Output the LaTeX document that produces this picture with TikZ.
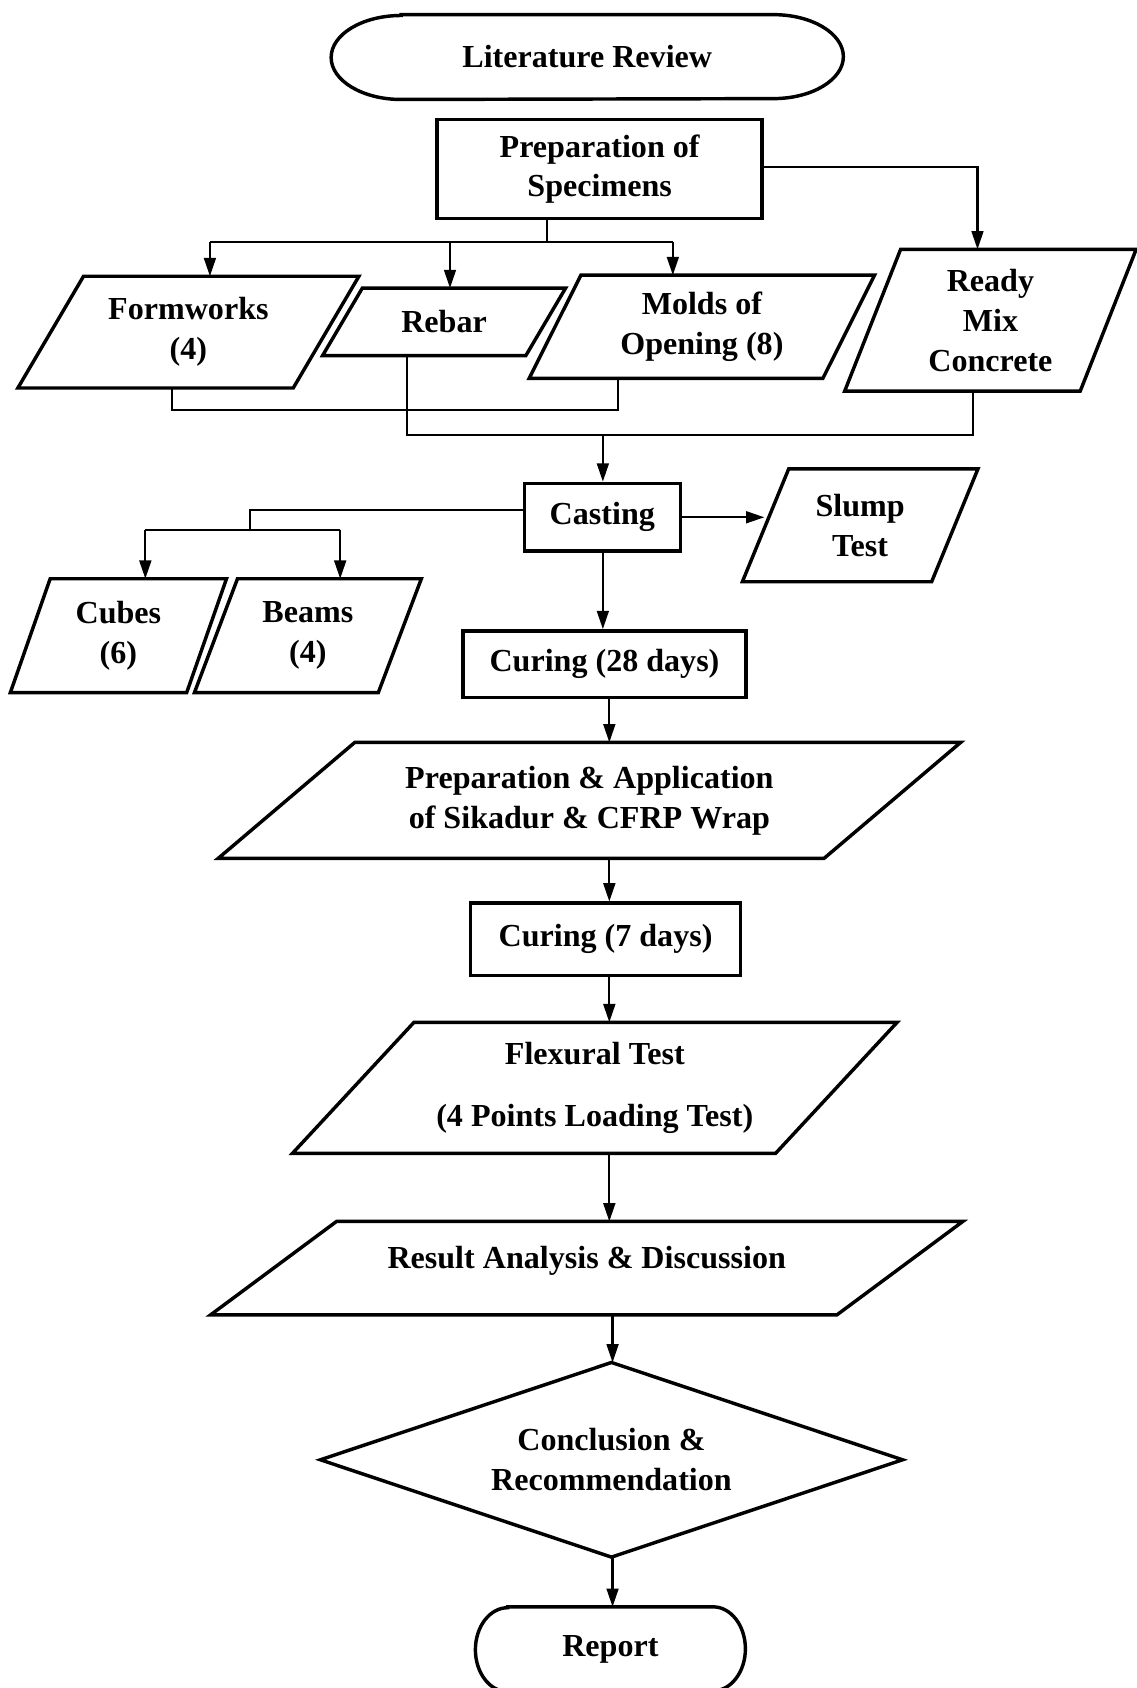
\documentclass[tikz,border=0pt]{standalone}
\usepackage{fontspec}
\setmainfont{Liberation Serif}
\usetikzlibrary{calc,arrows.meta}
\tikzset{
  box/.style={line width=1.6pt, line join=miter},
  conn/.style={line width=1pt},
  arr/.style={conn, -{Triangle[length=8.5pt,width=5.5pt]}},
  txt/.style={inner sep=0pt, align=center, font=\fontsize{14.9pt}{18.5pt}\selectfont\bfseries},
}
% #1 name, #2 cx, #3 cy, #4 height, #5 total width, #6 slant, #7 text
\newcommand\pgm[7]{%
  \node[txt, minimum width={#5*0.5pt}, minimum height={#4*0.5pt}] (#1) at (#2,#3) {#7};
  \draw[box] ($(#1.north west)+(#6,0)$) -- (#1.north east) -- ($(#1.south east)-(#6,0)$) -- (#1.south west) -- cycle;}
% #1 name, #2 cx, #3 cy, #4 width, #5 height, #6 rx(pt), #7 text
\newcommand\term[7]{%
  \node[txt, minimum width={#4*0.5pt}, minimum height={#5*0.5pt}] (#1) at (#2,#3) {#7};
  \draw[box] ($(#1.north west)+(2*#6,0)$) -- ($(#1.north east)-(2*#6,0)$)
    arc[start angle=90, end angle=-90, x radius=#6pt, y radius=#5*0.25pt]
    -- ($(#1.south west)+(2*#6,0)$)
    arc[start angle=270, end angle=90, x radius=#6pt, y radius=#5*0.25pt] -- cycle;}
\begin{document}
\begin{tikzpicture}[x=0.5pt, y=-0.5pt]
\useasboundingbox (0,0) rectangle (1056,1568);

\term{lit}{545.5}{53}{475}{78}{32.5}{Literature Review}
\node[txt, box, draw, minimum width=151pt, minimum height=46pt] (prep) at (557,157) {\raisebox{-2.5pt}{\begin{tabular}{@{}c@{}}Preparation of\\Specimens\end{tabular}}};

\pgm{fw}{175}{308.5}{103}{316}{61}{Formworks\\(4)}
\pgm{rebar}{412.5}{299}{62}{225}{37}{Rebar}
\pgm{molds}{652}{303.5}{95}{320}{48}{Molds of\\Opening (8)}
\pgm{rmc}{920}{297.5}{131}{270}{52}{Ready\\Mix\\Concrete}

\node[txt, box, draw, minimum width=72.5pt, minimum height=31.5pt] (cast) at (559.5,480.5) {Casting};
\pgm{slump}{799}{488}{104}{218}{43}{Slump\\Test}
\pgm{cubes}{110}{590.5}{105}{200}{37}{Cubes\\(6)}
\pgm{beams}{286}{590.5}{105}{210}{40}{Beams\\(4)}

\node[txt, box, draw, minimum width=131.5pt, minimum height=31pt] (cur28) at (561.5,617) {Curing (28 days)};
\pgm{prepapp}{547.5}{743.5}{107}{689}{127}{Preparation \& Application\\of Sikadur \& CFRP Wrap}
\node[txt, box, draw, minimum width=125.5pt, minimum height=33.5pt] (cur7) at (562.5,872.5) {Curing (7 days)};
\pgm{flex}{552.5}{1010.5}{121}{561}{113}{Flexural Test\\[10.5pt](4 Points Loading Test)}
\pgm{result}{545}{1178}{86}{698}{117}{\raisebox{0pt}[0pt][0pt]{Result Analysis \& Discussion}}

\node[txt, minimum width=270pt, minimum height=90pt] (concl) at (568,1356) {Conclusion \&\\Recommendation};
\draw[box] (concl.north) -- (concl.east) -- (concl.south) -- (concl.west) -- cycle;

\term{report}{567}{1532}{250}{78}{15}{Report}

% connectors: preparation to inputs
\coordinate (b1) at (508,225);
\coordinate (fwin) at (195,225);
\coordinate (rbin) at (418,225);
\coordinate (mdin) at (625,225);
\draw[conn] (prep.south -| b1) -- (b1);
\draw[conn] (fwin) -- (mdin);
\draw[arr] (fwin) -- (fwin |- fw.north);
\draw[arr] (rbin) -- (rbin |- rebar.north);
\draw[arr] (mdin) -- (mdin |- molds.north);
\coordinate (rmcin) at (908,155);
\draw[arr] (prep.east |- rmcin) -- (rmcin) -- (rmcin |- rmc.north);

% collecting lines
\coordinate (j1) at (160,381);
\coordinate (j2) at (574,381);
\draw[conn] (j1 |- fw.south) -- (j1) -- (j2) -- (j2 |- molds.south);
\coordinate (j3) at (378,404);
\coordinate (j4) at (904,404);
\draw[conn] (j3 |- rebar.south) -- (j3) -- (j4) -- (j4 |- rmc.south);
\coordinate (j5) at (560,404);
\draw[arr] (j5) -- (j5 |- cast.north);

% casting outputs
\coordinate (k1) at (232,474);
\coordinate (k2) at (232,492);
\coordinate (k3) at (135,492);
\coordinate (k4) at (316,492);
\draw[conn] (cast.west |- k1) -- (k1) -- (k2);
\draw[conn] (k3) -- (k4);
\draw[arr] (k3) -- (k3 |- cubes.north);
\draw[arr] (k4) -- (k4 |- beams.north);
\coordinate (sl) at (710,480.5);
\draw[arr] (cast.east) -- (sl);

% main spine
\coordinate (a1) at (560,0);
\coordinate (a2) at (566,0);
\coordinate (a3) at (569,0);
\draw[arr] (cast.south -| a1) -- (cur28.north -| a1);
\draw[arr] (cur28.south -| a2) -- (prepapp.north -| a2);
\draw[arr] (prepapp.south -| a2) -- (cur7.north -| a2);
\draw[arr] (cur7.south -| a2) -- (flex.north -| a2);
\draw[arr] (flex.south -| a2) -- (result.north -| a2);
\draw[arr] (result.south -| a3) -- (concl.north -| a3);
\draw[arr] (concl.south -| a3) -- (report.north -| a3);
\end{tikzpicture}
\end{document}
